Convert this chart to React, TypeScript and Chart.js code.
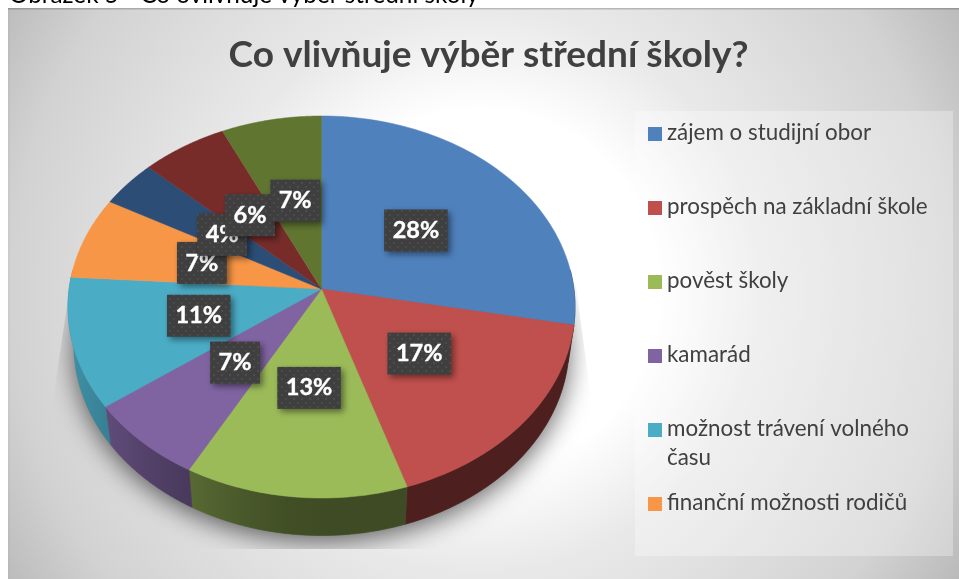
import React, { useEffect, useRef } from "react";
import { Chart, registerables } from "chart.js";

Chart.register(...registerables);

const titleText = "Co vlivňuje výběr střední školy?";
const captionText = "Obrázek 5 - Co ovlivňuje výběr střední školy";
const legendCategories = [
  "zájem o studijní obor",
  "prospěch na základní škole",
  "pověst školy",
  "kamarád",
  "možnost trávení volného času",
  "finanční možnosti rodičů",
];
const sliceValues = [28, 17, 13, 7, 11, 7, 4, 6, 7];
const sliceColors = ["#4f81bd", "#c0504d", "#9bbb59", "#8064a2", "#4bacc6", "#f79646", "#2c4d75", "#772c2a", "#5f7530"];

const FONT = "Lato, 'Open Sans', sans-serif";

// perspective of the pie's top face
const CX = 321.5;
const PA = 162.1;
const PB = 289;
const PC = -0.0942;
const PK = 252.4;
const DEPTH = 37.5;
const FLOOR_SCALE = 0.977;

function project(angle: number, r: number) {
  const u = r * Math.cos(angle);
  const v = r * Math.sin(angle);
  const d = 1 + PC * v;
  return { x: CX + (PK * u) / d, y: (PA * v + PB) / d };
}
function projectFloor(angle: number, r: number) {
  const p = project(angle, r);
  return { x: CX + (p.x - CX) * FLOOR_SCALE, y: p.y + DEPTH };
}
function shade(hex: string, f: number) {
  const n = parseInt(hex.slice(1), 16);
  const c = [(n >> 16) & 255, (n >> 8) & 255, n & 255].map((x) => Math.round(x * f));
  return `rgb(${c[0]},${c[1]},${c[2]})`;
}
function wallFactor(x: number) {
  const d = Math.max(0, CX - x);
  return 0.4 + 0.36 * Math.pow(Math.min(d, 260) / 220, 1.5);
}

const scene = {
  id: "scene",
  beforeDraw(chart: any) {
    const { ctx, width, height } = chart;
    ctx.save();
    ctx.fillStyle = "#ffffff";
    ctx.fillRect(0, 0, width, height);
    const g = ctx.createRadialGradient(480, 290, 0, 480, 290, 560);
    g.addColorStop(0, "#ffffff");
    g.addColorStop(0.32, "#ffffff");
    g.addColorStop(0.5, "#e9e9e9");
    g.addColorStop(0.84, "#d2d2d2");
    g.addColorStop(1, "#bababa");
    ctx.fillStyle = g;
    ctx.fillRect(8, 8, width - 8, height - 8);
    ctx.fillStyle = "rgba(0,0,0,0.2)";
    ctx.fillRect(8, 8, width - 8, 1.5);
    ctx.fillStyle = "rgba(0,0,0,0.03)";
    ctx.fillRect(8, 8, 1.5, height - 8);
    // caption, cut by the top of the page
    ctx.fillStyle = "#000000";
    ctx.font = `24.3px ${FONT}`;
    ctx.textBaseline = "alphabetic";
    ctx.textAlign = "left";
    ctx.fillText(captionText, 9, 3);
    ctx.restore();
  },
  beforeDatasetsDraw(chart: any) {
    const { ctx } = chart;
    const arcs = chart.getDatasetMeta(0).data;
    const STEPS = 60;

    // soft floor shadow, cut by a skewed box
    ctx.save();
    ctx.beginPath();
    ctx.moveTo(70, 285);
    ctx.lineTo(576, 285);
    ctx.lineTo(595, 430);
    ctx.lineTo(595, 549);
    ctx.lineTo(50, 549);
    ctx.lineTo(50, 420);
    ctx.closePath();
    ctx.clip();
    ctx.shadowColor = "rgba(0,0,0,0.6)";
    ctx.shadowBlur = 26;
    ctx.shadowOffsetY = 6;
    ctx.fillStyle = "#777";
    ctx.beginPath();
    for (let i = 0; i <= 120; i++) {
      const p = projectFloor((i / 120) * Math.PI * 2, 1);
      if (i === 0) ctx.moveTo(p.x, p.y);
      else ctx.lineTo(p.x, p.y);
    }
    ctx.closePath();
    ctx.fill();
    ctx.restore();

    // walls: only the near side of the rim shows
    const NEAR_FROM = -0.1;
    const NEAR_TO = Math.PI + 0.1;
    arcs.forEach((arc: any, idx: number) => {
      const { startAngle, endAngle } = arc.getProps(["startAngle", "endAngle"], true);
      const from = Math.max(startAngle, NEAR_FROM);
      const to = Math.min(endAngle, NEAR_TO);
      if (from >= to) return;
      const color = sliceColors[idx];
      const top: any[] = [];
      const bot: any[] = [];
      for (let i = 0; i <= STEPS; i++) {
        const t = from + ((to - from) * i) / STEPS;
        top.push(project(t, 1));
        bot.push(projectFloor(t, 1));
      }
      const xs = top.map((p) => p.x);
      const x0 = Math.min(...xs);
      const x1 = Math.max(...xs);
      const g = ctx.createLinearGradient(x0, 0, x1 + 0.01, 0);
      for (let s = 0; s <= 6; s++) {
        g.addColorStop(s / 6, shade(color, wallFactor(x0 + ((x1 - x0) * s) / 6)));
      }
      ctx.fillStyle = g;
      ctx.strokeStyle = g;
      ctx.lineWidth = 0.6;
      ctx.beginPath();
      top.forEach((p, i) => (i === 0 ? ctx.moveTo(p.x, p.y) : ctx.lineTo(p.x, p.y)));
      for (let i = bot.length - 1; i >= 0; i--) ctx.lineTo(bot[i].x, bot[i].y);
      ctx.closePath();
      ctx.fill();
      ctx.stroke();
    });

    // top faces
    arcs.forEach((arc: any, idx: number) => {
      const { startAngle, endAngle } = arc.getProps(["startAngle", "endAngle"], true);
      ctx.fillStyle = sliceColors[idx];
      ctx.strokeStyle = sliceColors[idx];
      ctx.lineWidth = 0.5;
      ctx.beginPath();
      const o = project(0, 0);
      ctx.moveTo(o.x, o.y);
      for (let i = 0; i <= STEPS; i++) {
        const p = project(startAngle + ((endAngle - startAngle) * i) / STEPS, 1);
        ctx.lineTo(p.x, p.y);
      }
      ctx.closePath();
      ctx.fill();
      ctx.stroke();
    });

    // data labels
    const tile = document.createElement("canvas");
    tile.width = 8;
    tile.height = 8;
    const tc = tile.getContext("2d")!;
    tc.fillStyle = "#3f3f3f";
    tc.fillRect(0, 0, 8, 8);
    tc.fillStyle = "#4c4c4c";
    tc.fillRect(1, 2, 2, 2);
    tc.fillRect(5, 6, 2, 2);
    const pattern = ctx.createPattern(tile, "repeat");
    arcs.forEach((arc: any, idx: number) => {
      const { startAngle, endAngle } = arc.getProps(["startAngle", "endAngle"], true);
      const c = project((startAngle + endAngle) / 2, 0.5);
      const text = `${sliceValues[idx]}%`;
      ctx.save();
      ctx.font = `bold 23.5px ${FONT}`;
      const tw = ctx.measureText(text).width;
      const w = tw + 17;
      const h = 42;
      ctx.shadowColor = "rgba(0,0,0,0.45)";
      ctx.shadowBlur = 6;
      ctx.shadowOffsetX = 3;
      ctx.shadowOffsetY = 3;
      ctx.fillStyle = pattern;
      ctx.fillRect(c.x - w / 2, c.y - h / 2, w, h);
      ctx.shadowColor = "transparent";
      ctx.fillStyle = "#ffffff";
      ctx.strokeStyle = "#ffffff";
      ctx.lineWidth = 0.4;
      ctx.textAlign = "center";
      ctx.textBaseline = "middle";
      ctx.fillText(text, c.x, c.y);
      ctx.strokeText(text, c.x, c.y);
      ctx.restore();
    });
    return false;
  },
  afterDraw(chart: any) {
    const { ctx } = chart;
    const left = 635;
    const top = 111;
    const step = 74;
    ctx.save();
    ctx.fillStyle = "rgba(255,255,255,0.3)";
    ctx.fillRect(left, top, 318, 445);
    ctx.font = `22.4px ${FONT}`;
    ctx.textAlign = "left";
    ctx.textBaseline = "alphabetic";
    legendCategories.forEach((label, i) => {
      const y = top + 16 + i * step;
      ctx.fillStyle = sliceColors[i];
      ctx.fillRect(648, y, 14, 14);
      ctx.fillStyle = "#404040";
      const words = label.split(" ");
      let line = "";
      let row = 0;
      words.forEach((w) => {
        const next = line ? `${line} ${w}` : w;
        if (ctx.measureText(next).width > 275 && line) {
          ctx.fillText(line, 667, y + 13 + row * 29);
          row += 1;
          line = w;
        } else line = next;
      });
      ctx.fillText(line, 667, y + 13 + row * 29);
    });
    ctx.restore();
  },
};

export default function App() {
  const ref = useRef<HTMLCanvasElement>(null);
  useEffect(() => {
    const chart = new Chart(ref.current!, {
      type: "pie",
      data: {
        labels: legendCategories,
        datasets: [{ data: sliceValues, backgroundColor: sliceColors, borderWidth: 0 }],
      },
      options: {
        responsive: false,
        animation: false,
        layout: { padding: { left: 18, top: 33 } },
        plugins: {
          legend: { display: false },
          tooltip: { enabled: false },
          title: {
            display: true,
            text: titleText,
            color: "#404040",
            font: { family: FONT, weight: "bold", size: 37 },
            padding: 0,
          },
        },
      },
      plugins: [scene],
    } as any);
    return () => chart.destroy();
  }, []);
  return (
    <div style={{ position: "fixed", left: 0, top: 0, width: 959, height: 579, overflow: "hidden" }}>
      <canvas ref={ref} width={959} height={579} style={{ display: "block" }} />
    </div>
  );
}
